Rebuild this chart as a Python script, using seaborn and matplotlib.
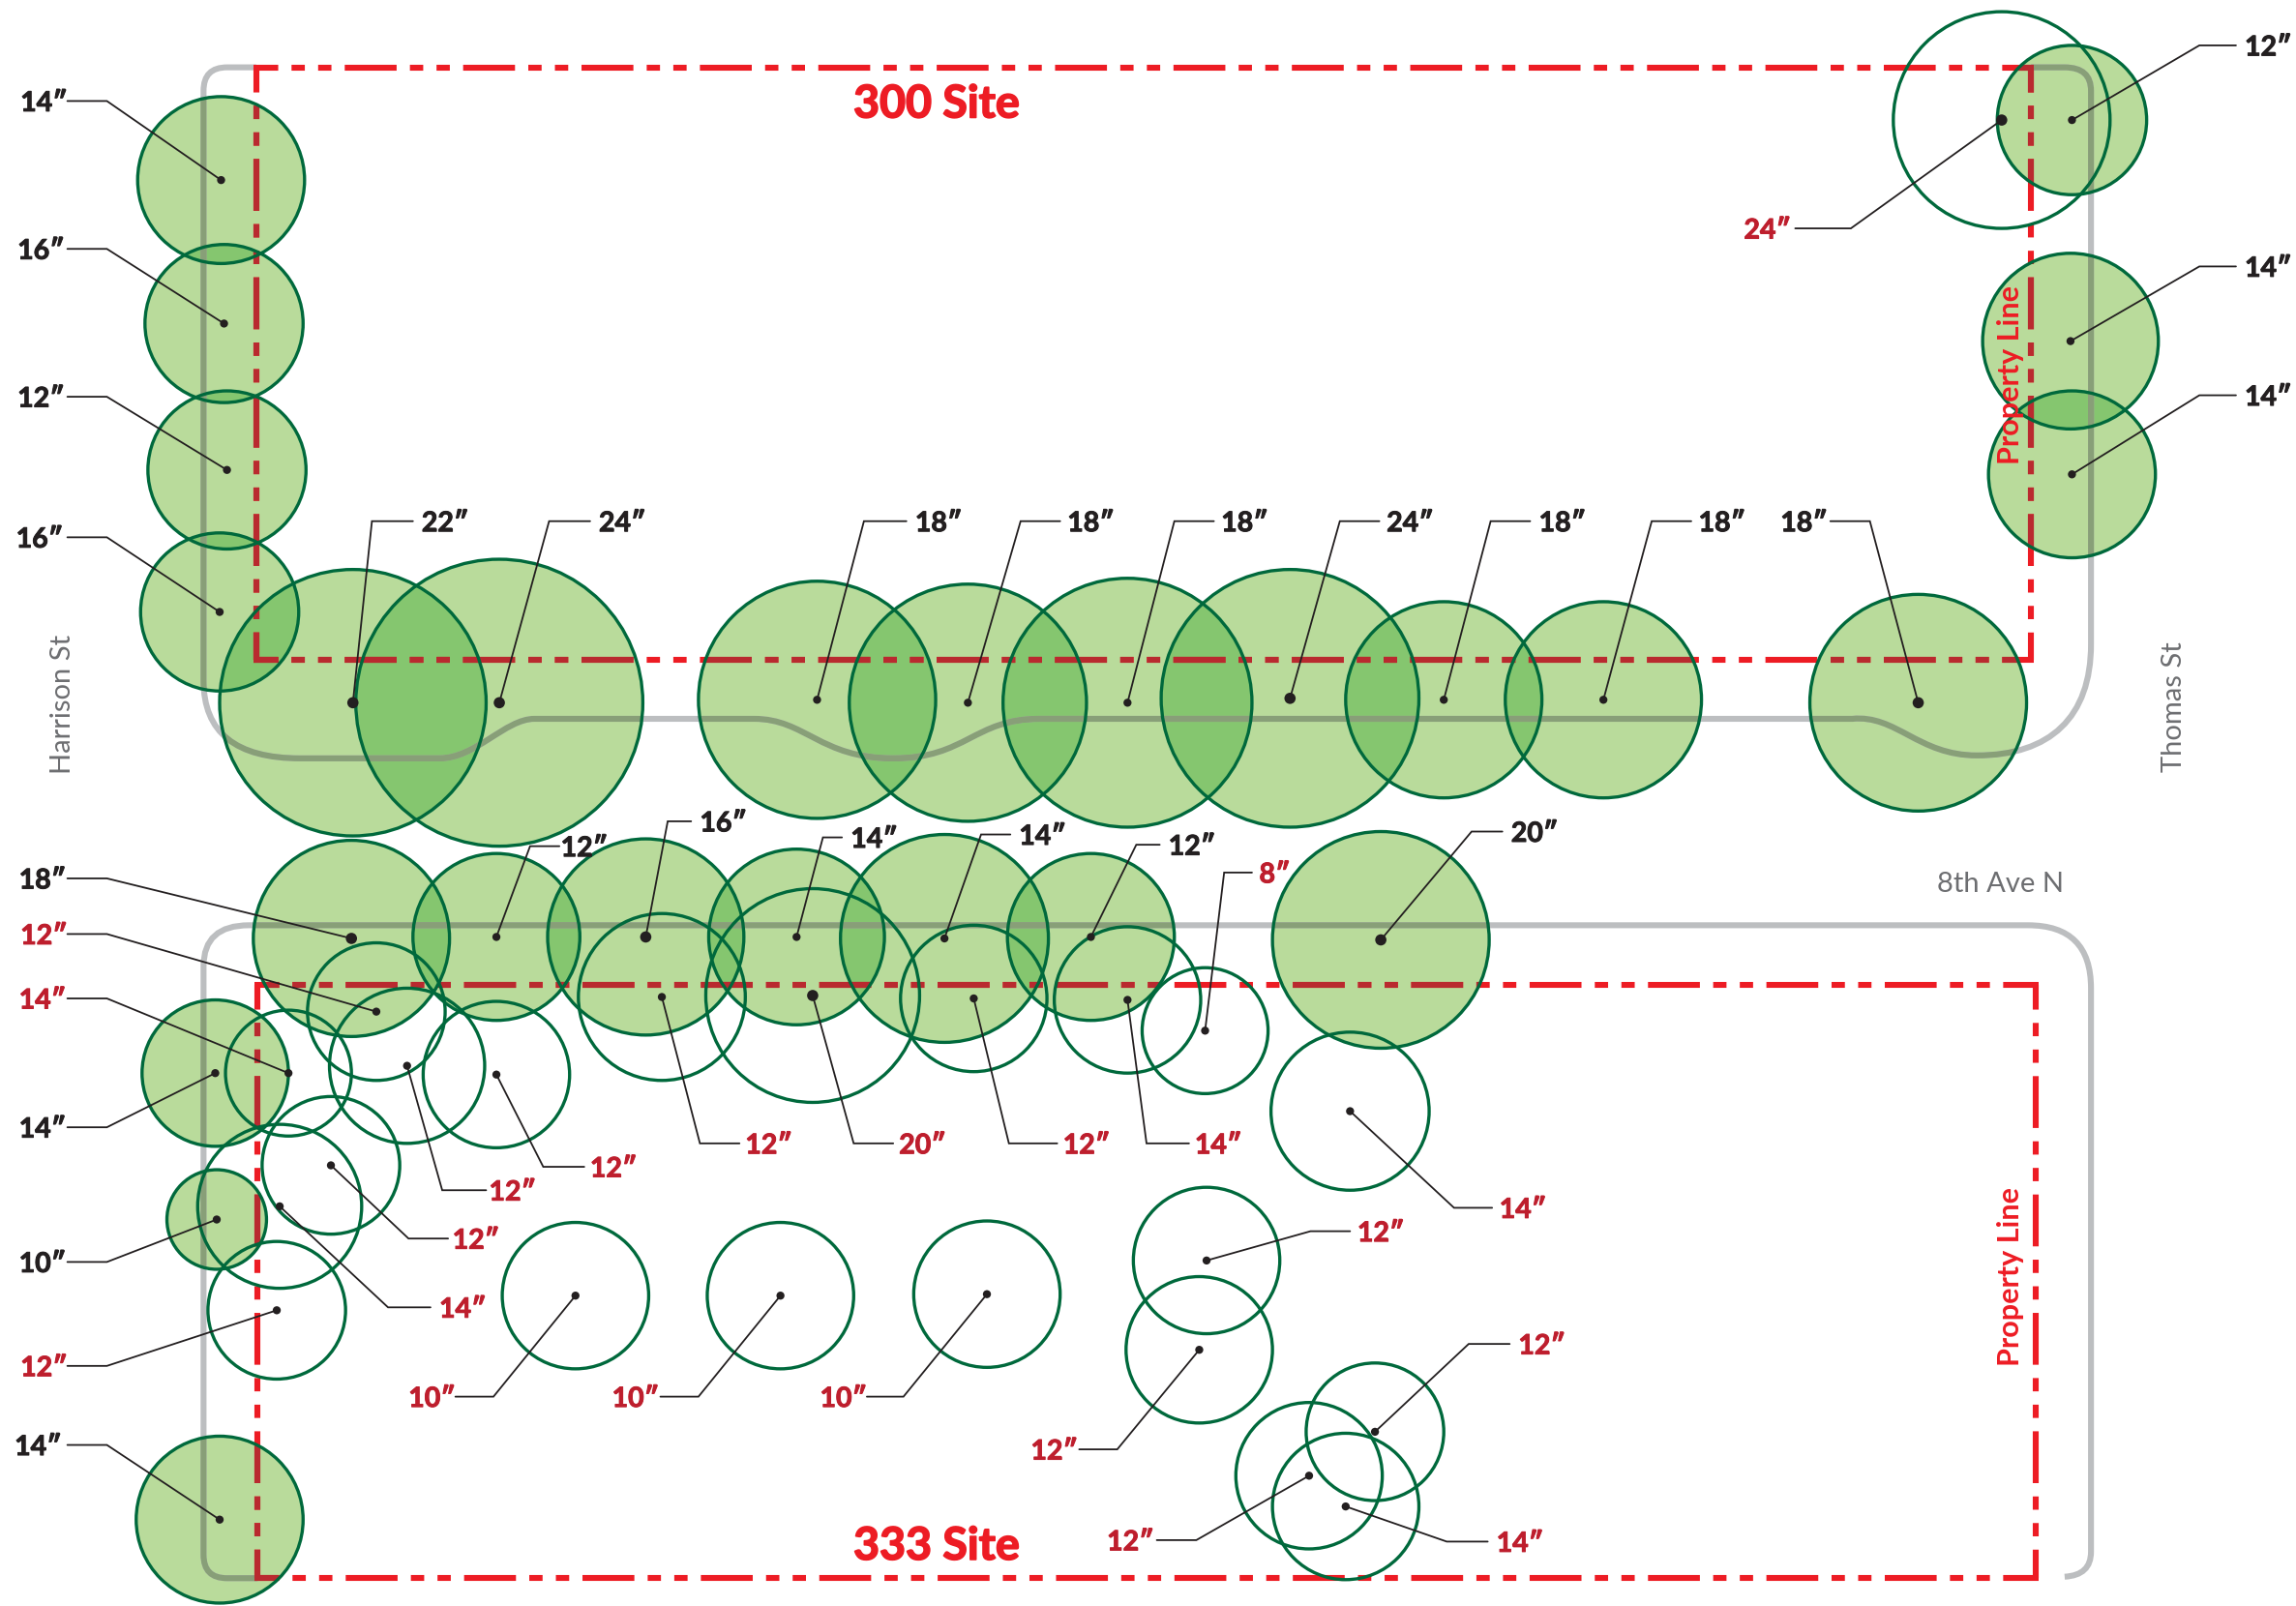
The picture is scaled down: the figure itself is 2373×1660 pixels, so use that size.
import numpy as np
import pandas as pd
import seaborn as sns
import matplotlib.pyplot as plt
import matplotlib.patheffects as pe
from matplotlib.patches import Circle, PathPatch
from matplotlib.path import Path

sns.set_theme(style="white")
plt.rcParams['font.family'] = ['Lato', 'Open Sans', 'DejaVu Sans']
plt.rcParams['lines.scale_dashes'] = False

# trees (x, y, canopy radius)
tree_x = [151, 153, 155, 150, 241, 341, 558, 661, 770, 881, 986, 1095, 1310, 1415, 1414, 1415,
          240, 339, 441, 544, 645, 745, 943, 147, 148, 150,
          1367, 257, 197, 278, 339, 226, 191, 189, 393, 533, 674, 452, 555, 665, 770, 823, 922,
          824, 819, 939, 894, 919]
tree_y = [123, 221, 321, 418, 480, 480, 478, 480, 480, 477, 478, 478, 480, 82, 233, 324,
          641, 640, 640, 640, 641, 640, 642, 733, 833, 1038,
          82, 691, 733, 728, 734, 796, 824, 895, 885, 885, 884, 681, 680, 682, 683, 704, 759,
          861, 922, 978, 1008, 1029]
tree_r = [57, 54, 54, 54, 91, 98, 81, 81, 85, 88, 67, 67, 74, 51, 60, 57,
          67, 57, 67, 60, 71, 57, 74, 50, 34, 57,
          74, 47, 43, 53, 50, 47, 56, 47, 50, 50, 50, 57, 73, 50, 50, 43, 54,
          50, 50, 47, 50, 50]
n_filled = 26  # first 26 trees are existing (green), the others are proposed
big_dots = [4, 5, 9, 12, 16, 18, 22, 26, 38]

tree_label = ['14″', '16″', '12″', '16″', '22″', '24″', '18″', '18″', '18″', '24″', '18″', '18″', '18″',
              '12″', '14″', '14″',
              '18″', '12″', '16″', '14″', '14″', '12″', '20″', '14″', '10″', '14″',
              '24″', '12″', '14″', '12″', '12″', '12″', '14″', '12″', '10″', '10″', '10″',
              '12″', '20″', '12″', '14″', '8″', '14″', '12″', '12″', '12″', '12″', '14″']
# leader line: tree -> elbow -> end, then the text
elbow_x = [73, 73, 73, 73, 254, 375, 590, 697, 802, 915, 1018, 1128, 1277, 1502, 1502, 1502,
           73, 362, 456, 562, 670, 776, 1005, 73, 73, 73,
           1264, 73, 73, 302, 371, 279, 265, 73, 337, 477, 617, 478, 583, 689, 783, 836, 993,
           895, 763, 1003, 817, 988]
elbow_y = [69, 170, 271, 367, 356, 356, 356, 356, 356, 356, 356, 356, 356, 31, 182, 270,
           600, 578, 561, 572, 570, 577, 568, 770, 862, 987,
           156, 638, 682, 813, 797, 846, 893, 933, 954, 954, 954, 781, 781, 781, 781, 596, 825,
           841, 990, 918, 1052, 1053]
end_x = [46, 46, 46, 46, 282, 403, 619, 724, 829, 942, 1045, 1155, 1250, 1527, 1527, 1527,
         46, 382, 472, 575, 690, 792, 1026, 46, 46, 46,
         1226, 46, 46, 332, 399, 306, 294, 46, 311, 451, 592, 505, 610, 722, 812, 855, 1019,
         922, 737, 1031, 790, 1016]
text_x = [14, 12, 12, 11, 288, 409, 625, 729, 834, 947, 1051, 1160, 1216, 1533, 1533, 1533,
          13, 383, 478, 581, 696, 798, 1032, 13, 13, 10,
          1191, 14, 13, 334, 403, 309, 300, 14, 279, 418, 560, 509, 614, 726, 816, 860, 1024,
          927, 704, 1037, 756, 1022]

# property lines
site_300 = [175, 1387, 46, 451]
site_333 = [176, 1390, 673, 1078]

# curb lines
road_north_xy = [(175, 46), (155, 46), (139, 46), (139, 62), (139, 465), (139, 518), (205, 518), (300, 518),
                 (325, 518), (345, 491), (365, 491), (515, 491), (550, 491), (560, 518), (610, 518),
                 (660, 518), (665, 491), (710, 491), (1265, 491), (1295, 488), (1310, 516), (1350, 516),
                 (1400, 516), (1428, 490), (1428, 440), (1428, 62), (1428, 46), (1410, 46), (1387, 46)]
road_north_codes = [1, 2, 3, 3, 2, 3, 3, 2, 4, 4, 4, 2, 4, 4, 4, 4, 4, 4, 2, 4, 4, 4, 4, 4, 4, 2, 3, 3, 2]
road_south_xy = [(176, 1078), (155, 1078), (139, 1078), (139, 1062), (139, 660), (139, 632), (170, 632),
                 (1385, 632), (1428, 632), (1428, 675), (1428, 1060), (1428, 1076), (1410, 1077)]
road_south_codes = [1, 2, 3, 3, 2, 3, 3, 2, 3, 3, 2, 3, 3]

FILL = '#b9db9b'
FILL2 = '#85c66f'
STROKE = '#00693c'
RED = '#ed1c24'
RED_DARK = '#b92a2f'
GREY = '#bcbec0'
GREY_DARK = '#889f78'
LABEL_RED = '#be1e2d'
LABEL_BLACK = '#231f20'
STREET = '#6d6e71'

fig = plt.figure(figsize=(23.73, 16.6), dpi=100)
ax = fig.add_axes([0, 0, 1, 1])


def make_circle(i, **kw):
    return Circle((tree_x[i], tree_y[i]), tree_r[i], **kw)


def draw_site(rect, color, z, clip=None):
    x0, x1, y0, y1 = rect
    style = (20.2, (38.6, 9.9, 9.9, 9.9, 9.9, 9.9))
    sides = [([x0 - 2, x1 + 2], [y0, y0]), ([x0 - 2, x1 + 2], [y1, y1]),
             ([x0, x0], [y0, y1]), ([x1, x1], [y0, y1])]
    for xs, ys in sides:
        line, = ax.plot(xs, ys, color=color, lw=4.4, ls=style, dash_capstyle='butt', zorder=z)
        if clip is not None:
            line.set_clip_path(clip)


def draw_road(xy, codes, color, z, clip=None):
    p = PathPatch(Path(xy, codes), fc='none', ec=color, lw=4.4, zorder=z)
    ax.add_patch(p)
    if clip is not None:
        p.set_clip_path(clip)


def heavy(color, w=0.7):
    # Lato bold is a bit light next to the original lettering
    return [pe.withStroke(linewidth=w, foreground=color)]


# canopies
for i in range(n_filled):
    ax.add_patch(make_circle(i, fc=FILL, ec='none', zorder=1))
for i in range(n_filled):
    for j in range(i + 1, n_filled):
        if np.hypot(tree_x[i] - tree_x[j], tree_y[i] - tree_y[j]) < tree_r[i] + tree_r[j]:
            lens = make_circle(j, fc=FILL2, ec='none', zorder=2)
            ax.add_patch(lens)
            lens.set_clip_path(make_circle(i, transform=ax.transData))

# curbs and property lines, darker where a canopy covers them
draw_road(road_north_xy, road_north_codes, GREY, 3)
draw_road(road_south_xy, road_south_codes, GREY, 3)
draw_site(site_300, RED, 4)
draw_site(site_333, RED, 4)
for i in range(n_filled):
    c = make_circle(i, transform=ax.transData)
    draw_road(road_north_xy, road_north_codes, GREY_DARK, 5, c)
    draw_road(road_south_xy, road_south_codes, GREY_DARK, 5, c)
    draw_site(site_300, RED_DARK, 6, c)
    draw_site(site_333, RED_DARK, 6, c)

for i in range(len(tree_x)):
    ax.add_patch(make_circle(i, fc='none', ec=STROKE, lw=2.4, zorder=7))

# leaders, labels
for i in range(len(tree_x)):
    ax.plot([tree_x[i], elbow_x[i], end_x[i]], [tree_y[i], elbow_y[i], elbow_y[i]],
            color=LABEL_BLACK, lw=1.3, zorder=8, solid_joinstyle='miter')
    col = LABEL_BLACK if i < n_filled else LABEL_RED
    ax.text(text_x[i], elbow_y[i], tree_label[i], ha='left', va='center_baseline', fontsize=20.5, fontweight='bold',
            color=col, zorder=10, path_effects=heavy(col))

df = pd.DataFrame({'x': tree_x, 'y': tree_y})
df['dot'] = 36
df.loc[big_dots, 'dot'] = 70
sns.scatterplot(data=df, x='x', y='y', s=df['dot'], color=LABEL_BLACK, edgecolor='none', legend=False, ax=ax, zorder=9)
ax.set_xlim(0, 1568)
ax.set_ylim(1097, 0)
ax.axis('off')

ax.text(639.5, 71, '300 Site', ha='center', va='center', fontsize=33.5, fontweight='bold', color=RED, zorder=10, path_effects=heavy(RED, 1.2))
ax.text(639.5, 1056, '333 Site', ha='center', va='center', fontsize=33.5, fontweight='bold', color=RED, zorder=10, path_effects=heavy(RED, 1.2))
ax.text(1373, 256, 'Property Line', rotation=90, ha='center', va='center', fontsize=22, fontweight='bold', color=RED, zorder=10)
ax.text(1373, 872, 'Property Line', rotation=90, ha='center', va='center', fontsize=22, fontweight='bold', color=RED, zorder=10)
ax.text(43, 481, 'Harrison St', rotation=90, ha='center', va='center', fontsize=21, color=STREET)
ax.text(1485, 483, 'Thomas St', rotation=90, ha='center', va='center', fontsize=21, color=STREET)
ax.text(1366, 604, '8th Ave N', ha='center', va='center', fontsize=21, color=STREET)

fig.savefig('out.png', dpi=100)
